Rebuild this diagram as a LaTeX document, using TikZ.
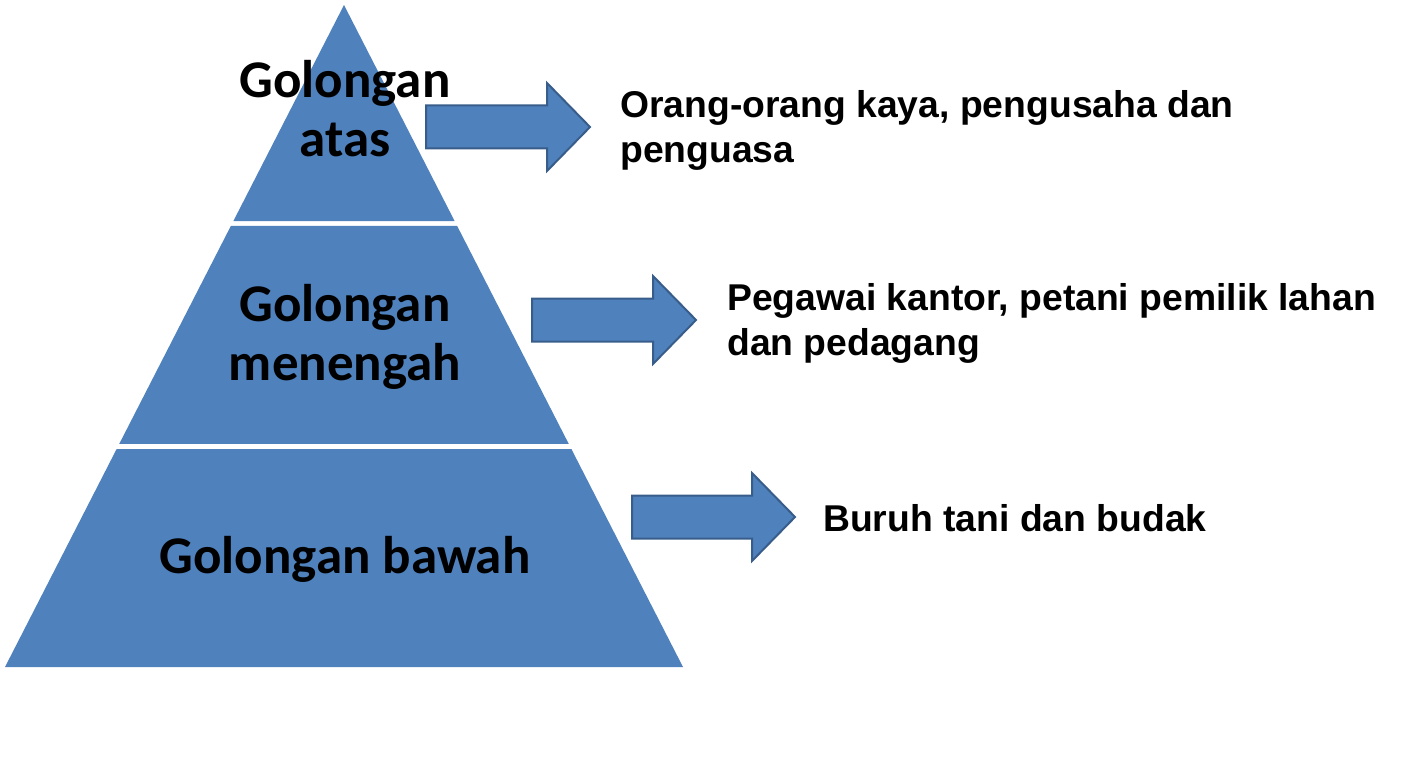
\documentclass[tikz,border=0pt]{standalone}
\usepackage{fontspec}
\setmainfont{Liberation Sans}
\newfontfamily\layerfont{Carlito}
\usetikzlibrary{calc, positioning}

\definecolor{layerblue}{HTML}{4F81BD}
\definecolor{edgeblue}{HTML}{385D8A}

\tikzset{
  layer/.style={fill=layerblue, draw=none},
  layerlabel/.style={align=center, inner sep=0pt,
    font=\layerfont\bfseries\fontsize{53}{59}\selectfont},
  blockarrow/.style={fill=layerblue, draw=edgeblue, line width=2pt,
    line join=miter},
  desc/.style={anchor=base west, align=left, inner sep=0pt,
    font=\bfseries\fontsize{37.3}{45}\selectfont}
}

\begin{document}
\begin{tikzpicture}[x=1pt, y=-1pt]
        \useasboundingbox (0,0) rectangle (1412,778);

        % Corners of the pyramid
        \coordinate (top) at (344,5);
        \coordinate (bl) at (5,667);
        \coordinate (br) at (683,667);

        % Three layers, with white gaps between them
        \fill[layer] (top) -- ($(top)!0.3263!(br)$) -- ($(top)!0.3263!(bl)$) -- cycle;
        \fill[layer] ($(top)!0.3338!(bl)$) -- ($(top)!0.3338!(br)$)
          -- ($(top)!0.6631!(br)$) -- ($(top)!0.6631!(bl)$) -- cycle;
        \fill[layer] ($(top)!0.6707!(bl)$) -- ($(top)!0.6707!(br)$)
          -- (br) -- (bl) -- cycle;

        % Layer names (base = baseline of the last line)
        \node[layerlabel, anchor=base] (atas) at (345,157) {Golongan\\atas};
        \node[layerlabel, anchor=base] (menengah) at (345,380) {Golongan\\menengah};
        \node[layerlabel, anchor=base] (bawah) at (345,573) {Golongan bawah};

        % Block arrows
        \draw[blockarrow] (426,105.5) -- ++(121,0) -- ++(0,-22.5) -- ++(43,44)
          -- ++(-43,44) -- ++(0,-22.5) -- ++(-121,0) -- cycle;
        \draw[blockarrow] (532,298.5) -- ++(121,0) -- ++(0,-22.5) -- ++(43,44)
          -- ++(-43,44) -- ++(0,-22.5) -- ++(-121,0) -- cycle;
        \draw[blockarrow] (632,495.5) -- ++(120,0) -- ++(0,-22.5) -- ++(43,44)
          -- ++(-43,44) -- ++(0,-22.5) -- ++(-120,0) -- cycle;

        % Who belongs to each layer
        \node[desc] (kaya) at (620,163) {Orang-orang kaya, pengusaha dan\\penguasa};
        \node[desc] (pegawai) at (727,355) {Pegawai kantor, petani pemilik lahan\\dan pedagang};
        \node[desc] (buruh) at (823,531) {Buruh tani dan budak};
    \end{tikzpicture}
\end{document}
